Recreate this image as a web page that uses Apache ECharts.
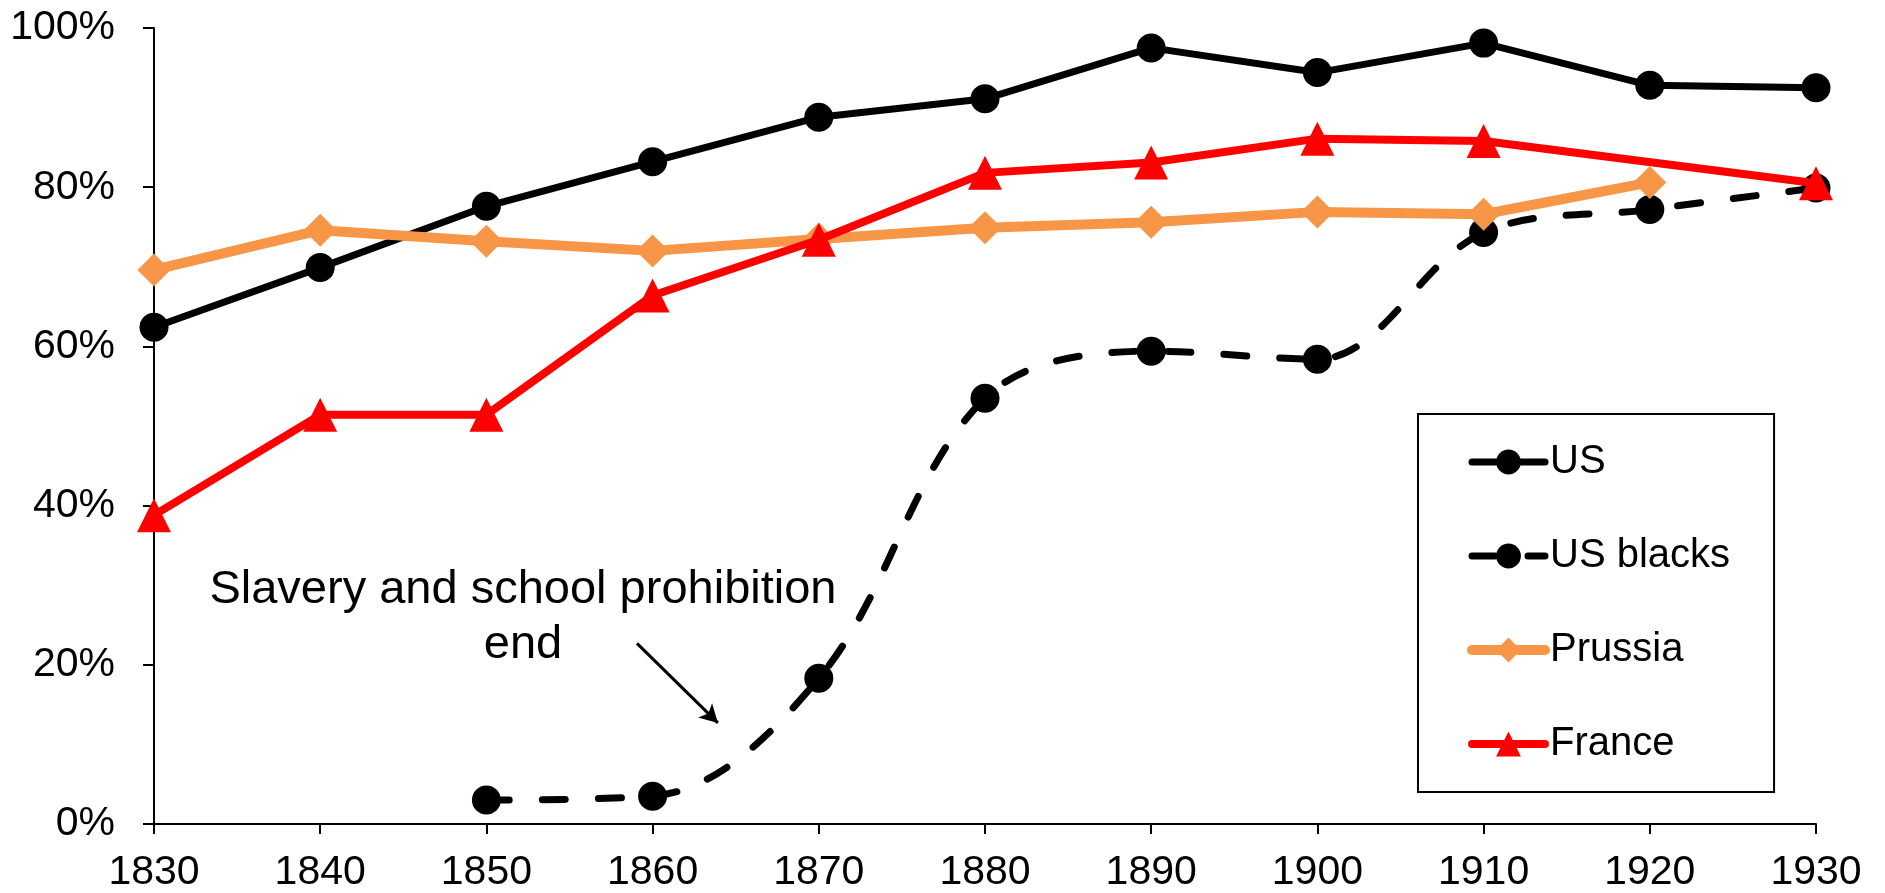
<!DOCTYPE html>
<html>
<head>
<meta charset="utf-8">
<script src="https://cdn.jsdelivr.net/npm/echarts@6/dist/echarts.min.js"></script>
<style>
html,body{margin:0;padding:0;background:#fff;}
#chart{width:1885px;height:893px;}
</style>
</head>
<body>
<div id="chart"></div>
<script>
// Data (percent of children enrolled)
var years = [1830, 1840, 1850, 1860, 1870, 1880, 1890, 1900, 1910, 1920, 1930];
var usValues = [62.4, 69.9, 77.6, 83.2, 88.8, 91.1, 97.5, 94.4, 98.1, 92.8, 92.5];
var usBlacksValues = [null, null, 3.0, 3.5, 18.3, 53.5, 59.4, 58.4, 74.3, 77.2, 79.9];
var prussiaValues = [69.6, 74.6, 73.2, 72.0, 73.5, 74.9, 75.6, 76.9, 76.6, 80.6, null];
var franceValues = [38.8, 51.4, 51.4, 66.4, 73.4, 81.8, 83.1, 86.1, 85.8, null, 80.5];
var seriesNames = ['US', 'US blacks', 'Prussia', 'France'];
var annotationText = 'Slavery and school prohibition\nend';
var arrowFrom = [1859.06, 22.7];
var arrowTo = [1863.93, 12.7];
var textAnchor = [1852.2, 32.9];

function pairs(vals) {
  var out = [];
  for (var i = 0; i < years.length; i++) {
    if (vals[i] !== null && vals[i] !== undefined) out.push([years[i], vals[i]]);
  }
  return out;
}

var FONT = 'Liberation Sans, Arial, sans-serif';
var chart = echarts.init(document.getElementById('chart'), null, {renderer: 'canvas'});

var option = {
  animation: false,
  backgroundColor: '#ffffff',
  grid: {left: 154, right: 69, top: 28, bottom: 67, containLabel: false},
  xAxis: {
    type: 'value',
    min: 1830, max: 1930, interval: 10,
    splitLine: {show: false},
    axisLine: {show: true, onZero: false, lineStyle: {color: '#000', width: 2}},
    axisTick: {show: true, inside: false, length: 10, lineStyle: {color: '#000', width: 2}},
    axisLabel: {color: '#000', fontSize: 41, fontFamily: FONT, margin: 28, formatter: function (v) { return String(v); }}
  },
  yAxis: {
    type: 'value',
    min: 0, max: 100, interval: 20,
    splitLine: {show: false},
    axisLine: {show: true, lineStyle: {color: '#000', width: 2}},
    axisTick: {show: true, inside: false, length: 11, lineStyle: {color: '#000', width: 2}},
    axisLabel: {color: '#000', fontSize: 41, fontFamily: FONT, margin: 39, formatter: function (v) { return v + '%'; }}
  },
  legend: {
    orient: 'vertical',
    left: 1418, top: 414,
    padding: [28, 44, 28, 49],
    itemGap: 54,
    itemWidth: 73,
    itemHeight: 31,
    borderColor: '#000',
    borderWidth: 2,
    backgroundColor: '#fff',
    lineStyle: {width: 'inherit', type: 'inherit', cap: 'inherit'},
    textStyle: {color: '#000', fontSize: 40, fontFamily: FONT, lineHeight: 40},
    data: seriesNames
  },
  series: [
    {
      name: seriesNames[0], type: 'line', data: pairs(usValues),
      symbol: 'circle', symbolSize: 29,
      lineStyle: {color: '#000', width: 7, cap: 'round'},
      itemStyle: {color: '#000'},
      z: 2
    },
    {
      name: seriesNames[1], type: 'line', data: pairs(usBlacksValues),
      symbol: 'circle', symbolSize: 29, smooth: 0.35,
      lineStyle: {color: '#000', width: 7, type: [23, 33], cap: 'round'},
      itemStyle: {color: '#000'},
      z: 3,
      markLine: {
        silent: true,
        symbol: ['none', 'arrow'],
        symbolSize: [15, 18],
        label: {show: false},
        lineStyle: {color: '#000', width: 3, type: 'solid'},
        emphasis: {disabled: true},
        data: [[{coord: arrowFrom}, {coord: arrowTo}]]
      }
    },
    {
      name: seriesNames[2], type: 'line', data: pairs(prussiaValues),
      symbol: 'diamond', symbolSize: 33,
      lineStyle: {color: '#F79646', width: 10, cap: 'round'},
      itemStyle: {color: '#F79646'},
      z: 4
    },
    {
      name: seriesNames[3], type: 'line', data: pairs(franceValues),
      symbol: 'triangle', symbolSize: 34,
      lineStyle: {color: '#FF0000', width: 8, cap: 'round'},
      itemStyle: {color: '#FF0000'},
      z: 5
    }
  ]
};
chart.setOption(option);

var p = chart.convertToPixel({gridIndex: 0}, textAnchor);
chart.setOption({
  graphic: [{
    type: 'text',
    x: p[0], y: p[1],
    silent: true,
    style: {
      text: annotationText,
      fill: '#000',
      fontSize: 47,
      fontFamily: FONT,
      lineHeight: 55,
      align: 'center',
      verticalAlign: 'top'
    }
  }]
});
</script>
</body>
</html>
